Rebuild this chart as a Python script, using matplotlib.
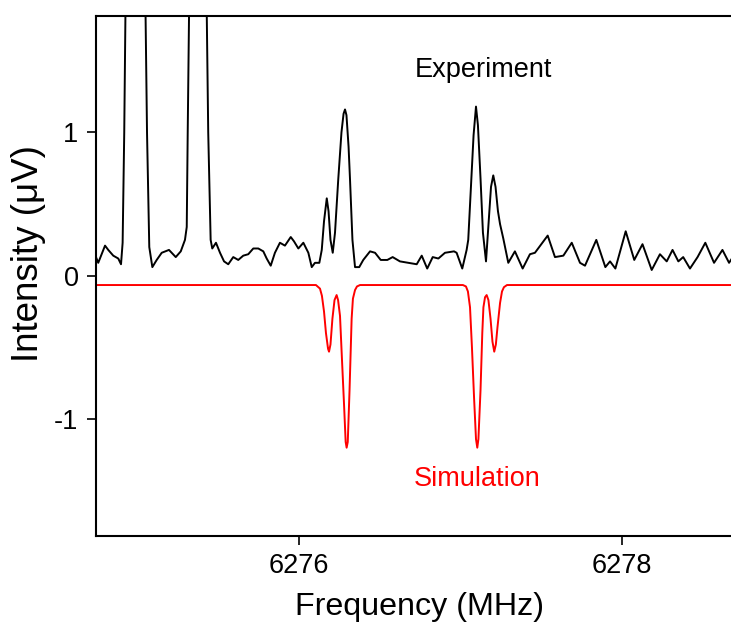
import matplotlib
matplotlib.use("Agg")
import matplotlib.pyplot as plt

plt.rcParams['font.family'] = ['Liberation Sans', 'DejaVu Sans']
plt.rcParams['axes.unicode_minus'] = False

# Experimental trace (frequency in MHz, intensity in microvolts)
exp_freq = [6274.745, 6274.759, 6274.801, 6274.821, 6274.852, 6274.883, 6274.900,
            6274.910, 6274.920, 6274.929, 6274.990, 6275.050, 6275.061, 6275.075,
            6275.094, 6275.121, 6275.152, 6275.197, 6275.239, 6275.270, 6275.296,
            6275.307, 6275.313, 6275.323, 6275.377, 6275.429, 6275.440, 6275.455,
            6275.465, 6275.488, 6275.513, 6275.538, 6275.564, 6275.595, 6275.626,
            6275.657, 6275.688, 6275.719, 6275.750, 6275.781, 6275.802, 6275.827,
            6275.853, 6275.884, 6275.915, 6275.951, 6275.971, 6275.998, 6276.029,
            6276.060, 6276.081, 6276.101, 6276.128, 6276.143, 6276.157, 6276.174,
            6276.185, 6276.197, 6276.211, 6276.225, 6276.245, 6276.265, 6276.278,
            6276.287, 6276.296, 6276.309, 6276.318, 6276.333, 6276.349, 6276.375,
            6276.400, 6276.442, 6276.473, 6276.508, 6276.549, 6276.582, 6276.627,
            6276.679, 6276.731, 6276.762, 6276.796, 6276.830, 6276.865, 6276.906,
            6276.962, 6276.978, 6277.013, 6277.040, 6277.050, 6277.067, 6277.083,
            6277.098, 6277.110, 6277.126, 6277.141, 6277.160, 6277.178, 6277.191,
            6277.205, 6277.219, 6277.234, 6277.247, 6277.267, 6277.298, 6277.339,
            6277.387, 6277.432, 6277.463, 6277.542, 6277.587, 6277.639, 6277.691,
            6277.742, 6277.773, 6277.843, 6277.899, 6277.928, 6277.961, 6278.025,
            6278.078, 6278.129, 6278.186, 6278.237, 6278.279, 6278.315, 6278.351,
            6278.381, 6278.423, 6278.470, 6278.518, 6278.572, 6278.624, 6278.665,
            6278.700]
exp_int = [0.13, 0.09, 0.21, 0.18, 0.14, 0.12, 0.08,
           0.23, 1.00, 2.00, 3.50, 2.00, 1.00, 0.20,
           0.06, 0.11, 0.16, 0.18, 0.13, 0.17, 0.25,
           0.34, 1.00, 2.00, 3.50, 2.00, 1.00, 0.25,
           0.19, 0.23, 0.16, 0.10, 0.08, 0.13, 0.11,
           0.14, 0.15, 0.19, 0.19, 0.17, 0.12, 0.07,
           0.16, 0.23, 0.21, 0.27, 0.24, 0.19, 0.23,
           0.16, 0.06, 0.09, 0.09, 0.18, 0.38, 0.54,
           0.45, 0.25, 0.16, 0.30, 0.67, 1.00, 1.13,
           1.16, 1.12, 0.90, 0.67, 0.25, 0.06, 0.06,
           0.11, 0.17, 0.16, 0.11, 0.11, 0.13, 0.10,
           0.09, 0.08, 0.14, 0.05, 0.13, 0.12, 0.16,
           0.17, 0.16, 0.05, 0.18, 0.25, 0.62, 0.98,
           1.18, 1.05, 0.68, 0.30, 0.10, 0.40, 0.62,
           0.70, 0.62, 0.45, 0.36, 0.26, 0.09, 0.17,
           0.05, 0.15, 0.16, 0.28, 0.13, 0.14, 0.23,
           0.09, 0.07, 0.25, 0.06, 0.10, 0.05, 0.31,
           0.11, 0.22, 0.04, 0.15, 0.10, 0.18, 0.10,
           0.13, 0.05, 0.13, 0.23, 0.09, 0.18, 0.09,
           0.15]

# Simulated spectrum (plotted inverted, offset below zero)
sim_freq = [6274.745, 6276.107, 6276.132, 6276.144, 6276.157, 6276.169, 6276.182,
            6276.188, 6276.197, 6276.209, 6276.222, 6276.235, 6276.244, 6276.256,
            6276.268, 6276.281, 6276.291, 6276.297, 6276.304, 6276.315, 6276.328,
            6276.336, 6276.349, 6276.361, 6276.380,
            6277.017, 6277.036, 6277.048, 6277.061, 6277.073, 6277.086, 6277.098,
            6277.106, 6277.113, 6277.126, 6277.137, 6277.144, 6277.154, 6277.164,
            6277.175, 6277.188, 6277.200, 6277.211, 6277.221, 6277.231, 6277.247,
            6277.259, 6277.271, 6277.290, 6278.700]
sim_int = [-0.065, -0.065, -0.09, -0.14, -0.25, -0.40, -0.51,
           -0.53, -0.48, -0.30, -0.17, -0.135, -0.17, -0.28,
           -0.58, -0.90, -1.16, -1.20, -1.16, -0.80, -0.30,
           -0.16, -0.10, -0.075, -0.065,
           -0.065, -0.075, -0.11, -0.22, -0.50, -0.85, -1.14,
           -1.20, -1.14, -0.80, -0.40, -0.22, -0.15, -0.135,
           -0.17, -0.30, -0.46, -0.53, -0.48, -0.36, -0.19,
           -0.11, -0.08, -0.065, -0.065]

x_ticks = [6276, 6278]
y_ticks = [-1, 0, 1]

fig = plt.figure(figsize=(7.31, 6.24), dpi=100)
ax = fig.add_axes([0.1313, 0.1415, 0.8687, 0.8333])

ax.plot(exp_freq, exp_int, color='black', lw=1.4, solid_joinstyle='round')
ax.plot(sim_freq, sim_int, color='red', lw=1.4, solid_joinstyle='round')

ax.set_xlim(6274.745, 6278.677)
ax.set_ylim(-1.814, 1.814)
ax.set_xticks(x_ticks)
ax.set_xticklabels([str(t) for t in x_ticks])
ax.set_yticks(y_ticks)
ax.set_yticklabels([str(t) for t in y_ticks])

ax.spines['right'].set_visible(False)
for s in ['left', 'top', 'bottom']:
    ax.spines[s].set_linewidth(1.5)
ax.tick_params(direction='out', length=6.5, width=1.2, labelsize=19.5, pad=6)

ax.set_xlabel('Frequency (MHz)', fontsize=23.2)
ax.set_ylabel('Intensity (\u03bcV)', fontsize=26.5)
ax.xaxis.set_label_coords(0.509, -0.109)
ax.yaxis.set_label_coords(-0.079, 0.542)

ax.text(0.61, 0.895, 'Experiment', transform=ax.transAxes, fontsize=19.5,
        ha='center', va='center', color='black')
ax.text(0.60, 0.109, 'Simulation', transform=ax.transAxes, fontsize=19.5,
        ha='center', va='center', color='red')

fig.savefig('out.png', dpi=100)
